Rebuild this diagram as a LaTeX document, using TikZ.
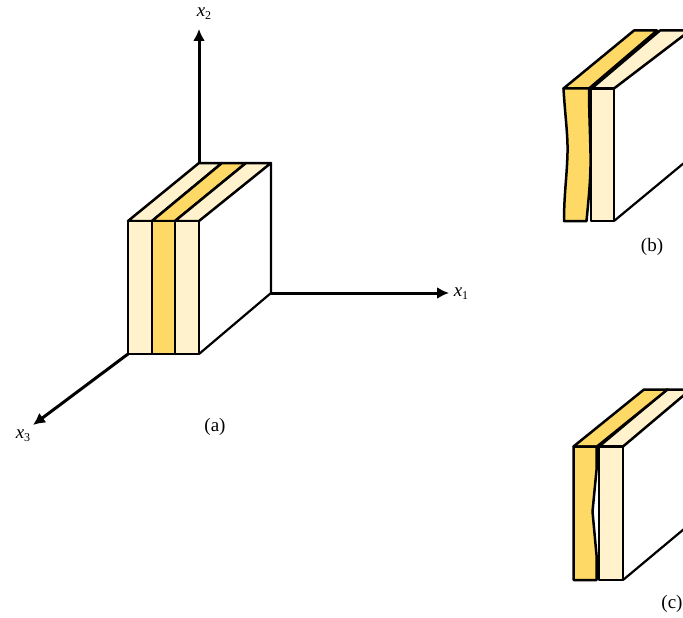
\documentclass[tikz,border=0pt]{standalone}
\usepackage{fontspec}
\setmainfont{Liberation Serif}
\usetikzlibrary{arrows.meta}
\definecolor{creamc}{HTML}{FFF2CC}
\definecolor{goldc}{HTML}{FFD966}
\newcommand{\axlabel}[1]{\textit{x}\raisebox{-0.35ex}{\fontsize{12}{13}\selectfont #1}}
\tikzset{
  slab/.style={draw=black,line width=2.5pt,line join=round},
  cream/.style={slab,fill=creamc},
  gold/.style={slab,fill=goldc},
  edgeline/.style={draw=black,line width=2.2pt,line join=round},
  axis/.style={draw=black,line width=3pt,-{Latex[length=12pt,width=12pt]}},
  lab/.style={font=\fontsize{19}{21}\selectfont,inner sep=0pt}
}
\begin{document}
\begin{tikzpicture}[x=1pt,y=-1pt]
\useasboundingbox (0,0) rectangle (683,618);
\clip (0,0) rectangle (683,618);
% axes
\coordinate (o2) at (199,163); \coordinate (t2) at (199,29);
\coordinate (o1) at (271,293); \coordinate (t1) at (449,293);
\coordinate (o3) at (128,354); \coordinate (t3) at (33,425);
\draw[axis] (o2) -- (t2);
\draw[axis] (o1) -- (t1);
\draw[axis] (o3) -- (t3);
\node[lab] (x2) at (204,14) {\axlabel{2}};
\node[lab] (x1) at (461,294) {\axlabel{1}};
\node[lab] (x3) at (23,436) {\axlabel{3}};
% block (a)
\draw[edgeline] (199,354) -- (271,293) -- (271,163);
\draw[cream] (128,221) -- (199,163) -- (222,163) -- (152,221) -- cycle;
\draw[gold] (152,221) -- (222,163) -- (246,163) -- (175,221) -- cycle;
\draw[cream] (175,221) -- (246,163) -- (271,163) -- (199,221) -- cycle;
\draw[cream] (128,221) rectangle (152,354);
\draw[gold] (152,221) rectangle (175,354);
\draw[cream] (175,221) rectangle (199,354);
\node[lab] (la) at (215,427) {(a)};
% block (b)
\draw[edgeline] (614,221) -- (690,158);
\draw[cream] (591.5,88.5) -- (660,30.5) -- (690,30.5) -- (614,88.5) -- cycle;
\draw[gold] (563.5,88.5) -- (634,30.5) -- (657,30.5) -- (589,88.5) -- cycle;
\draw[cream] (591,88.5) rectangle (614,221);
\draw[gold] (563.5,88.5) .. controls (565,115) and (568,135) .. (567.5,153)
  .. controls (567,175) and (564,195) .. (564,221) -- (586.5,221)
  .. controls (589,195) and (591,175) .. (590.5,153)
  .. controls (590,130) and (589,110) .. (589,88.5) -- cycle;
\node[lab] (lb) at (652,247) {(b)};
% block (c)
\draw[edgeline] (623,580) -- (690,524);
\draw[cream] (599,446.5) -- (667,389.5) -- (690,389.5) -- (690,390) -- (623,446.5) -- cycle;
\draw[gold] (573.5,446.5) -- (644,389.5) -- (667.5,389.5) -- (597,446.5) -- cycle;
\draw[cream] (599,446.5) rectangle (623,580);
\draw[gold] (573.5,446.5) -- (596.5,446.5) -- (596.5,470) -- (592.5,511.5) -- (596.5,555) -- (596.5,580) -- (573.5,580) -- cycle;
\node[lab] (lc) at (672,604) {(c)};
\end{tikzpicture}
\end{document}
